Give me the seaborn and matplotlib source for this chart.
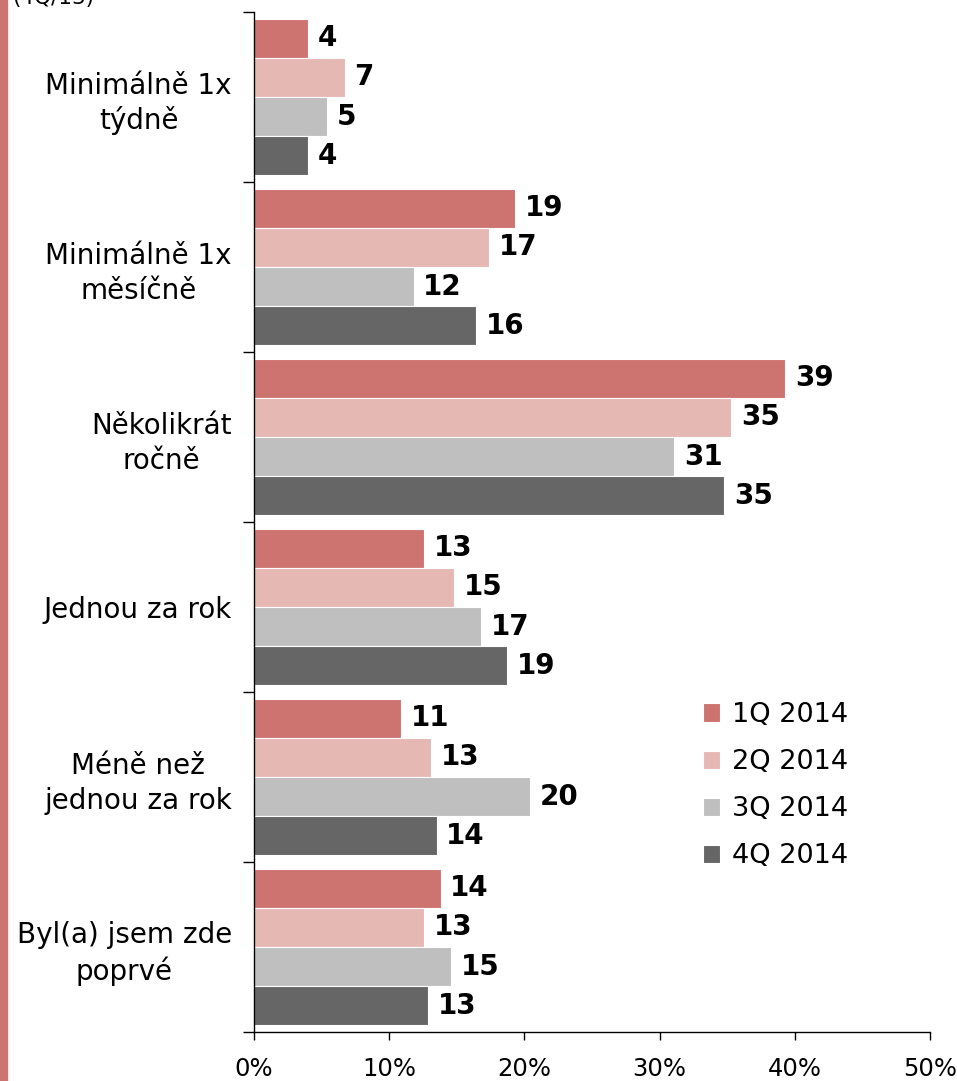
import numpy as np
import pandas as pd
import matplotlib
matplotlib.use("Agg")
import matplotlib.pyplot as plt
from matplotlib.patches import Rectangle
import seaborn as sns

# categories and series
categories = ["Minimálně 1x\ntýdně", "Minimálně 1x\nměsíčně", "Několikrát\nročně",
              "Jednou za rok", "Méně než\njednou za rok", "Byl(a) jsem zde\npoprvé"]
quarters = ["1Q 2014", "2Q 2014", "3Q 2014", "4Q 2014"]
q1_2014 = [4.0, 19.3, 39.3, 12.6, 10.9, 13.8]
q2_2014 = [6.7, 17.4, 35.3, 14.8, 13.1, 12.6]
q3_2014 = [5.4, 11.8, 31.1, 16.8, 20.4, 14.6]
q4_2014 = [4.0, 16.4, 34.8, 18.7, 13.5, 12.9]
colors = ["#cd7370", "#e6b8b3", "#bfbfbf", "#666666"]
x_ticks = [0, 10, 20, 30, 40, 50]

df = pd.DataFrame({
    "kategorie": categories * 4,
    "kvartal": np.repeat(quarters, len(categories)),
    "hodnota": q1_2014 + q2_2014 + q3_2014 + q4_2014,
})

sns.set_style("white")
plt.rcParams['font.family'] = ['DejaVu Sans']
plt.rcParams['text.color'] = 'black'
plt.rcParams['xtick.color'] = 'black'
plt.rcParams['ytick.color'] = 'black'

fig = plt.figure(figsize=(9.57, 10.81), dpi=100)
ax = fig.add_axes([254/957, 1 - 1032/1081, (930 - 254)/957, 1020/1081])

sns.barplot(data=df, y="kategorie", x="hodnota", hue="kvartal", orient="h",
            order=categories, hue_order=quarters, palette=colors, saturation=1,
            width=0.92, edgecolor="white", linewidth=0.8, ax=ax, errorbar=None)

for cont in ax.containers:
    vals = [f"{round(b.get_width()):.0f}" for b in cont]
    ax.bar_label(cont, labels=vals, padding=7, fontsize=20, fontweight="bold", color="black")

ax.set_xlim(0, 50)
ax.set_ylim(len(categories) - 0.5, -0.5)
ax.set_xticks(x_ticks)
ax.set_xticklabels([f"{t}%" for t in x_ticks], fontsize=17.5, color="black")
ax.tick_params(axis="x", length=6, width=1, direction="out", pad=12, bottom=True, color="black")
ax.set_yticks(range(len(categories)))
ax.set_yticklabels(categories, fontsize=20, multialignment="center", linespacing=1.3, color="black")
ax.tick_params(axis="y", which="major", length=0, pad=16)
ax.set_yticks(np.arange(-0.5, len(categories), 1), minor=True)
ax.tick_params(axis="y", which="minor", length=8, width=1, direction="out", left=True, color="black")
ax.set_xlabel("")
ax.set_ylabel("")

for s in ["top", "right"]:
    ax.spines[s].set_visible(False)
for s in ["left", "bottom"]:
    ax.spines[s].set_color("black")
    ax.spines[s].set_linewidth(1)

leg = ax.legend(loc="upper left", bbox_to_anchor=(0.664, 0.3235), frameon=False, fontsize=19.5,
                borderpad=0, borderaxespad=0, handlelength=0.65, handleheight=0.65,
                handletextpad=0.42, labelspacing=0.78)
for t in leg.get_texts():
    t.set_color("black")

# red strip on the left edge and the cut-off note at the top
fig.patches.append(Rectangle((0, 0), 7/957, 1, transform=fig.transFigure,
                             color="#cd7370", zorder=0))
fig.text(12/957, 1 - 4/1081, "(4Q/13)", fontsize=15.5, va="baseline", ha="left")

fig.savefig("out.png", dpi=100)
